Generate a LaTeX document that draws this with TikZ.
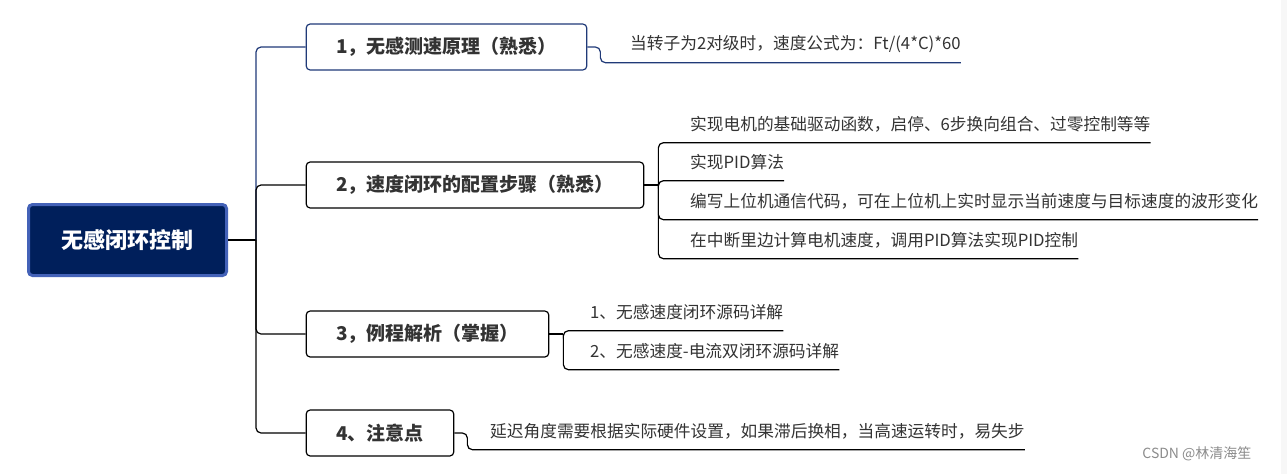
\documentclass[tikz,border=0pt]{standalone}
\usepackage{fontspec}
\setmainfont{Noto Sans CJK SC}
\usepackage{tikz}
\usetikzlibrary{positioning}
\definecolor{navy}{HTML}{001F5B}
\definecolor{navyline}{HTML}{203A78}
\definecolor{rootborder}{HTML}{4462B8}
\definecolor{txt}{HTML}{333333}
\tikzset{
  mapnode/.style = {align=center, inner sep=0pt, text centered},
  mm_root/.style = {mapnode, rectangle, rounded corners=4pt, draw=rootborder,
    line width=3pt, fill=navy, text=white, font=\fontsize{22}{22}\selectfont\bfseries,
    minimum width=198pt, minimum height=71pt},% racine
  mm_main/.style = {mapnode, rectangle, rounded corners=4pt, draw=black, line width=1.2pt,
    text=txt, font=\fontsize{19}{19}\selectfont\bfseries, inner xsep=30pt,
    minimum height=46pt, anchor=west},% branche
  mm_leaf/.style = {mapnode, anchor=west, text=txt, font=\fontsize{16.7}{16.7}\selectfont,
    minimum height=37pt},% feuille
  mm_link/.style = {line width=1.2pt, rounded corners=5pt},% trait
  mm_mark/.style = {anchor=east, text=black!45, font=\fontsize{14}{14}\selectfont}% filigrane
}

\begin{document}
\begin{tikzpicture}[x=1pt, y=-1pt]
  \path [fill=white] (0,0) rectangle (1287,474);
  \fill [black!3] (1281,0) rectangle (1287,474);
  \node [mm_root] (root) at (127.5,240) {无感闭环控制};
  \node [mm_main, draw=navyline] (b1) at (305.6,47) {1，无感测速原理（熟悉）};
  \node [mm_main] (b2) at (305.6,185) {2，速度闭环的配置步骤（熟悉）};
  \node [mm_main] (b3) at (305.6,334) {3，例程解析（掌握）};
  \node [mm_main] (b4) at (305.6,433) {4、注意点};
  % feuilles
  \node [mm_leaf] (l11) at (630,44) {当转子为2对级时，速度公式为：Ft/(4*C)*60};
  \node [mm_leaf] (l21) at (690,124) {实现电机的基础驱动函数，启停、6步换向组合、过零控制等等};
  \node [mm_leaf] (l22) at (690,162) {实现PID算法};
  \node [mm_leaf] (l23) at (690,201) {编写上位机通信代码，可在上位机上实时显示当前速度与目标速度的波形变化};
  \node [mm_leaf] (l24) at (690,240) {在中断里边计算电机速度，调用PID算法实现PID控制};
  \node [mm_leaf] (l31) at (590,312) {1、无感速度闭环源码详解};
  \node [mm_leaf] (l32) at (590,351) {2、无感速度-电流双闭环源码详解};
  \node [mm_leaf] (l41) at (490,431) {延迟角度需要根据实际硬件设置，如果滞后换相，当高速运转时，易失步};
  \node [mm_mark] (wm) at (1255,454) {CSDN @林清海笙};
  % traits
  \draw [mm_link] (root.east) -- ++(28,0) coordinate (h0);
  \draw [mm_link, navyline] (h0) |- (b1.west);
  \foreach \b in {b2,b3,b4}
    \draw [mm_link] (h0) |- (\b.west);
  \draw [mm_link, navyline] (b1.east) -- ++(13,0) |- (l11.south east);
  \draw [mm_link] (b2.east) -- ++(14,0) coordinate (h2);
  \foreach \l in {l21,l22,l23,l24}
    \draw [mm_link] (h2) |- (\l.south east);
  \draw [mm_link] (b3.east) -- ++(14,0) coordinate (h3);
  \foreach \l in {l31,l32}
    \draw [mm_link] (h3) |- (\l.south east);
  \draw [mm_link] (b4.east) -- ++(13,0) |- (l41.south east);
\end{tikzpicture}
\end{document}
